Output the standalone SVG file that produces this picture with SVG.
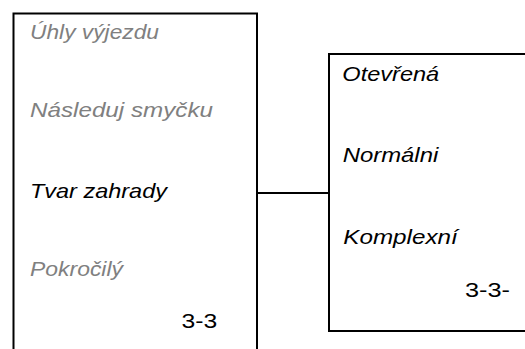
<svg xmlns="http://www.w3.org/2000/svg" width="525" height="349" viewBox="0 0 525 349">
<style>
.box{fill:none;stroke:#000;stroke-width:2}
.t{font-family:"Liberation Sans",Arial,sans-serif;font-size:20.5px;font-style:italic}
.g{fill:#808080}
.k{fill:#000}
.n{font-family:"Liberation Sans",Arial,sans-serif;font-size:20.5px;fill:#000}
</style>
<rect width="525" height="349" fill="#fff"/>
<g id="menu-left">
<path class="box" d="M13.5,360 V13.5 H257 V360"/>
<text class="t g" transform="matrix(1.15 0 0 1 30 39)" textLength="112.2" lengthAdjust="spacingAndGlyphs">Úhly výjezdu</text>
<text class="t g" transform="matrix(1.15 0 0 1 30 116.7)" textLength="159.1" lengthAdjust="spacingAndGlyphs">Následuj smyčku</text>
<text class="t k" transform="matrix(1.15 0 0 1 30 197.7)" textLength="119.1" lengthAdjust="spacingAndGlyphs">Tvar zahrady</text>
<text class="t g" transform="matrix(1.15 0 0 1 30 275.7)" textLength="80.9" lengthAdjust="spacingAndGlyphs">Pokročilý</text>
<text class="n" transform="matrix(1.15 0 0 1 181.5 328.3)" textLength="31" lengthAdjust="spacingAndGlyphs">3-3</text>
</g>
<g id="menu-right">
<path class="box" d="M530,54 H329 V331 H530"/>
<text class="t k" transform="matrix(1.15 0 0 1 342.3 81)" textLength="84.3" lengthAdjust="spacingAndGlyphs">Otevřená</text>
<text class="t k" transform="matrix(1.15 0 0 1 342.7 161.7)" textLength="83.1" lengthAdjust="spacingAndGlyphs">Normálni</text>
<text class="t k" transform="matrix(1.15 0 0 1 343.3 243.7)" textLength="99.5" lengthAdjust="spacingAndGlyphs">Komplexní</text>
<text class="n" transform="matrix(1.15 0 0 1 465 297.3)" textLength="39.1" lengthAdjust="spacingAndGlyphs">3-3-</text>
</g>
<g id="connectors">
<line class="box" x1="257" y1="193" x2="329" y2="193"/>
</g>
</svg>
